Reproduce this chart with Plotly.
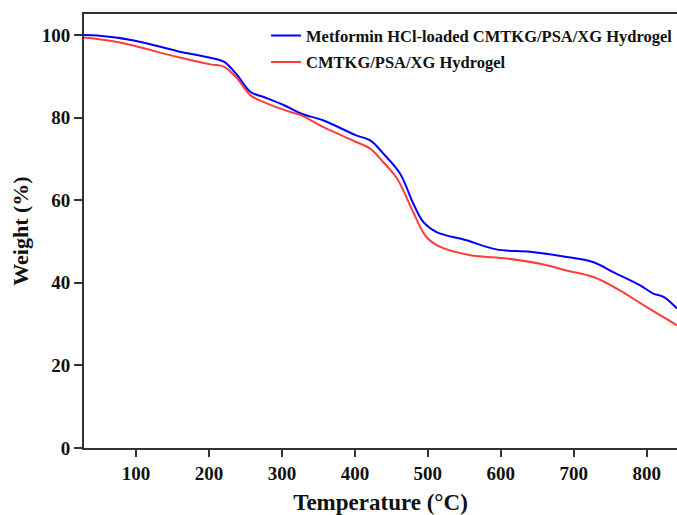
import plotly.graph_objects as go

temp_loaded = [28.7, 47, 97, 157, 202, 221, 239, 257, 275, 303, 326, 357, 402, 421, 439, 462, 480, 494, 512, 553, 594, 640, 686, 727, 754, 791, 809, 823, 841.5]
weight_loaded = [100.0, 99.9, 98.7, 96.1, 94.5, 93.5, 90.2, 86.2, 85.0, 83.0, 81.0, 79.3, 75.7, 74.5, 71.3, 66.4, 59.2, 54.7, 52.3, 50.3, 48.1, 47.5, 46.4, 45.0, 42.6, 39.4, 37.4, 36.6, 33.8]

temp_blank = [28.7, 74, 157, 202, 221, 239, 257, 280, 311, 326, 357, 402, 421, 439, 458, 480, 498, 517, 558, 608, 654, 690, 727, 763, 800, 823, 841.5]
weight_blank = [99.4, 98.3, 94.7, 92.9, 92.3, 89.4, 85.4, 83.4, 81.4, 80.6, 77.7, 74.1, 72.5, 69.2, 65.2, 57.1, 51.1, 48.7, 46.7, 45.9, 44.6, 43.0, 41.4, 38.2, 34.1, 31.7, 29.7]

x_ticks = [100, 200, 300, 400, 500, 600, 700, 800]
y_ticks = [0, 20, 40, 60, 80, 100]

font_family = "Liberation Serif"

fig = go.Figure()
fig.add_trace(go.Scatter(x=temp_loaded, y=weight_loaded, mode="lines",
                         line=dict(color="#0000ff", width=2, shape="spline", smoothing=1.0),
                         name="Metformin HCl-loaded CMTKG/PSA/XG Hydrogel", legendgroup="a"))
fig.add_trace(go.Scatter(x=temp_blank, y=weight_blank, mode="lines",
                         line=dict(color="#ff3c3c", width=2, shape="spline", smoothing=1.0),
                         name="CMTKG/PSA/XG Hydrogel", legendgroup="b"))

fig.update_layout(
    width=677, height=515,
    margin=dict(l=84, r=0, t=14, b=67, autoexpand=False),
    paper_bgcolor="white", plot_bgcolor="white",
    font=dict(family=font_family, color="#111"),
    legend=dict(x=0.307, y=0.99, xanchor="left", yanchor="top", bgcolor="rgba(0,0,0,0)",
                font=dict(family=font_family, size=16.5, color="#111", weight="bold"), tracegroupgap=2),
    showlegend=True,
)
fig.update_xaxes(range=[28.7, 841.5], tickvals=x_ticks, showgrid=False, zeroline=False,
                 showline=True, linecolor="#333", linewidth=2, mirror=True,
                 ticks="outside", ticklen=7, tickwidth=2, tickcolor="#333",
                 tickfont=dict(family=font_family, size=19, color="#111", weight="bold"),
                 title=dict(text="Temperature (°C)", font=dict(family=font_family, size=23, color="#111", weight="bold"), standoff=14))
fig.update_yaxes(range=[0, 105.1], tickvals=y_ticks, showgrid=False, zeroline=False,
                 showline=True, linecolor="#333", linewidth=2, mirror=False,
                 ticks="outside", ticklen=8, tickwidth=2, tickcolor="#333",
                 tickfont=dict(family=font_family, size=19, color="#111", weight="bold"),
                 title=dict(text="Weight (%)", font=dict(family=font_family, size=22, color="#111", weight="bold"), standoff=7))

fig.write_html("out.html")
